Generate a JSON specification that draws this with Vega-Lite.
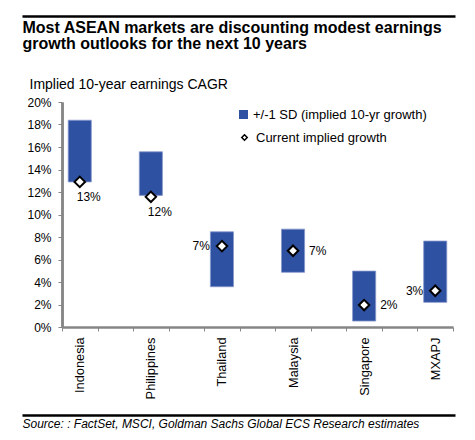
{
  "$schema": "https://vega.github.io/schema/vega-lite/v6.json",
  "width": 391,
  "height": 225,
  "autosize": {"type": "none"},
  "padding": {"left": 62, "top": 102, "right": 22, "bottom": 113},
  "background": "white",
  "config": {
    "font": "Liberation Sans",
    "view": {"stroke": null},
    "axis": {"grid": false}
  },
  "data": {
    "values": [
      {"country": "Indonesia", "lo": 12.9, "hi": 18.38, "cur": 12.9, "label": "13%"},
      {"country": "Philippines", "lo": 11.7, "hi": 15.57, "cur": 11.57, "label": "12%"},
      {"country": "Thailand", "lo": 3.58, "hi": 8.46, "cur": 7.19, "label": "7%"},
      {"country": "Malaysia", "lo": 4.86, "hi": 8.7, "cur": 6.78, "label": "7%"},
      {"country": "Singapore", "lo": 0.53, "hi": 4.97, "cur": 1.95, "label": "2%"},
      {"country": "MXAPJ", "lo": 2.19, "hi": 7.64, "cur": 3.22, "label": "3%"}
    ]
  },
  "layer": [
    {
      "mark": {"type": "bar", "width": {"band": 0.65}, "stroke": "#8797cc", "strokeWidth": 0.8},
      "encoding": {
        "x": {
          "field": "country",
          "type": "nominal",
          "sort": null,
          "scale": {
            "type": "band",
            "domain": ["Indonesia", "_1", "Philippines", "_2", "Thailand", "_3", "Malaysia", "_4", "Singapore", "_5", "MXAPJ"],
            "paddingInner": 0,
            "paddingOuter": 0
          },
          "axis": {
            "title": null,
            "orient": "bottom",
            "labelAngle": -90,
            "labelFontSize": 12.8,
            "labelColor": "black",
            "labelPadding": 6,
            "labelExpr": "indexof(datum.label, '_') === 0 ? '' : datum.label",
            "tickBand": "extent",
            "tickSize": 4,
            "tickWidth": 1,
            "tickColor": "#868686",
            "domainColor": "#868686",
            "domainWidth": 2.5
          }
        },
        "y": {
          "field": "lo",
          "type": "quantitative",
          "scale": {"domain": [0, 20], "nice": false},
          "axis": {
            "orient": "left",
            "values": [0, 4, 8, 12, 16, 20],
            "labelExpr": "datum.value + '%'",
            "labelOverlap": false,
            "labelFontSize": 12,
            "labelColor": "black",
            "labelPadding": 7,
            "tickSize": 4,
            "tickWidth": 1,
            "tickColor": "#868686",
            "domainColor": "#868686",
            "domainWidth": 2.5,
            "title": "Implied 10-year earnings CAGR",
            "titleAngle": 0,
            "titleAlign": "left",
            "titleBaseline": "alphabetic",
            "titleX": -33,
            "titleY": -14,
            "titleFontSize": 14,
            "titleFontWeight": "normal",
            "titleColor": "black"
          }
        },
        "y2": {"field": "hi"},
        "color": {
          "datum": "+/-1 SD (implied 10-yr growth)",
          "scale": {"range": ["#2E51A2"]},
          "legend": {
            "orient": "none",
            "legendX": 175,
            "legendY": 6,
            "title": null,
            "padding": 0,
            "symbolType": "square",
            "symbolSize": 81,
            "symbolStrokeWidth": 0,
            "labelFontSize": 13,
            "labelOffset": 3,
            "labelLimit": 300,
            "labelColor": "black"
          }
        }
      }
    },
    {
      "mark": {"type": "point", "shape": "diamond", "filled": true, "fill": "white", "stroke": "black", "strokeWidth": 2, "size": 110, "opacity": 1},
      "encoding": {
        "x": {
          "field": "country",
          "type": "nominal",
          "sort": null,
          "scale": {
            "type": "band",
            "domain": ["Indonesia", "_1", "Philippines", "_2", "Thailand", "_3", "Malaysia", "_4", "Singapore", "_5", "MXAPJ"],
            "paddingInner": 0,
            "paddingOuter": 0
          },
          "axis": null
        },
        "y": {
          "field": "cur",
          "type": "quantitative",
          "scale": {"domain": [0, 20], "nice": false},
          "axis": {
            "orient": "left",
            "values": [2, 6, 10, 14, 18],
            "labelExpr": "datum.value + '%'",
            "labelOverlap": false,
            "labelFontSize": 12,
            "labelColor": "black",
            "labelPadding": 7,
            "tickSize": 4,
            "tickWidth": 1,
            "tickColor": "#868686",
            "domainColor": "#868686",
            "domainWidth": 2.5,
            "title": null
          }
        },
        "shape": {
          "datum": "Current implied growth",
          "scale": {"range": ["diamond"]},
          "legend": {
            "orient": "none",
            "legendX": 176,
            "legendY": 29,
            "title": null,
            "padding": 0,
            "symbolSize": 30,
            "labelFontSize": 13,
            "labelOffset": 5,
            "labelLimit": 300,
            "labelColor": "black",
            "encode": {
              "symbols": {
                "update": {
                  "fill": {"value": "white"},
                  "stroke": {"value": "black"},
                  "strokeWidth": {"value": 1.3},
                  "opacity": {"value": 1}
                }
              }
            }
          }
        }
      }
    },
    {
      "transform": [{"filter": "datum.country === 'Indonesia' || datum.country === 'Philippines'"}],
      "mark": {"type": "text", "align": "left", "baseline": "alphabetic", "dx": -3, "dy": 19, "fontSize": 12, "color": "black"},
      "encoding": {
        "x": {
          "field": "country",
          "type": "nominal",
          "sort": null,
          "scale": {
            "type": "band",
            "domain": ["Indonesia", "_1", "Philippines", "_2", "Thailand", "_3", "Malaysia", "_4", "Singapore", "_5", "MXAPJ"],
            "paddingInner": 0,
            "paddingOuter": 0
          },
          "axis": null
        },
        "y": {"field": "cur", "type": "quantitative", "scale": {"domain": [0, 20], "nice": false}, "axis": null},
        "text": {"field": "label"}
      }
    },
    {
      "transform": [{"filter": "datum.country === 'Thailand' || datum.country === 'MXAPJ'"}],
      "mark": {"type": "text", "align": "right", "baseline": "middle", "dx": -12, "dy": 0, "fontSize": 12, "color": "black"},
      "encoding": {
        "x": {
          "field": "country",
          "type": "nominal",
          "sort": null,
          "scale": {
            "type": "band",
            "domain": ["Indonesia", "_1", "Philippines", "_2", "Thailand", "_3", "Malaysia", "_4", "Singapore", "_5", "MXAPJ"],
            "paddingInner": 0,
            "paddingOuter": 0
          },
          "axis": null
        },
        "y": {"field": "cur", "type": "quantitative", "scale": {"domain": [0, 20], "nice": false}, "axis": null},
        "text": {"field": "label"}
      }
    },
    {
      "transform": [{"filter": "datum.country === 'Malaysia' || datum.country === 'Singapore'"}],
      "mark": {"type": "text", "align": "left", "baseline": "middle", "dx": 16, "dy": 0, "fontSize": 12, "color": "black"},
      "encoding": {
        "x": {
          "field": "country",
          "type": "nominal",
          "sort": null,
          "scale": {
            "type": "band",
            "domain": ["Indonesia", "_1", "Philippines", "_2", "Thailand", "_3", "Malaysia", "_4", "Singapore", "_5", "MXAPJ"],
            "paddingInner": 0,
            "paddingOuter": 0
          },
          "axis": null
        },
        "y": {"field": "cur", "type": "quantitative", "scale": {"domain": [0, 20], "nice": false}, "axis": null},
        "text": {"field": "label"}
      }
    },
    {
      "mark": {"type": "point", "opacity": 0},
      "encoding": {
        "x": {
          "field": "country",
          "type": "nominal",
          "sort": null,
          "scale": {"type": "point", "range": [-40, 393]},
          "axis": {
            "orient": "top",
            "offset": 86,
            "domain": true,
            "domainColor": "black",
            "domainWidth": 2.5,
            "ticks": false,
            "labels": false,
            "title": ["Most ASEAN markets are discounting modest earnings", "growth outlooks for the next 10 years"],
            "titleX": -40,
            "titleY": 16,
            "titleAngle": 0,
            "titleAlign": "left",
            "titleBaseline": "alphabetic",
            "titleFontSize": 16,
            "titleFontWeight": "bold",
            "titleLineHeight": 16.5,
            "titleColor": "black"
          }
        }
      }
    },
    {
      "mark": {"type": "point", "opacity": 0},
      "encoding": {
        "x": {
          "field": "country",
          "type": "nominal",
          "sort": null,
          "scale": {"type": "point", "range": [-40, 393]},
          "axis": {
            "orient": "bottom",
            "offset": 88,
            "domain": true,
            "domainColor": "black",
            "domainWidth": 2.5,
            "ticks": false,
            "labels": false,
            "title": "Source: : FactSet, MSCI, Goldman Sachs Global ECS Research estimates",
            "titleX": -40,
            "titleY": 12,
            "titleAngle": 0,
            "titleAlign": "left",
            "titleBaseline": "alphabetic",
            "titleFontSize": 12,
            "titleFontWeight": "normal",
            "titleFontStyle": "italic",
            "titleColor": "black"
          }
        }
      }
    }
  ],
  "resolve": {
    "scale": {"x": "independent", "y": "independent"},
    "axis": {"x": "independent", "y": "independent"}
  }
}
